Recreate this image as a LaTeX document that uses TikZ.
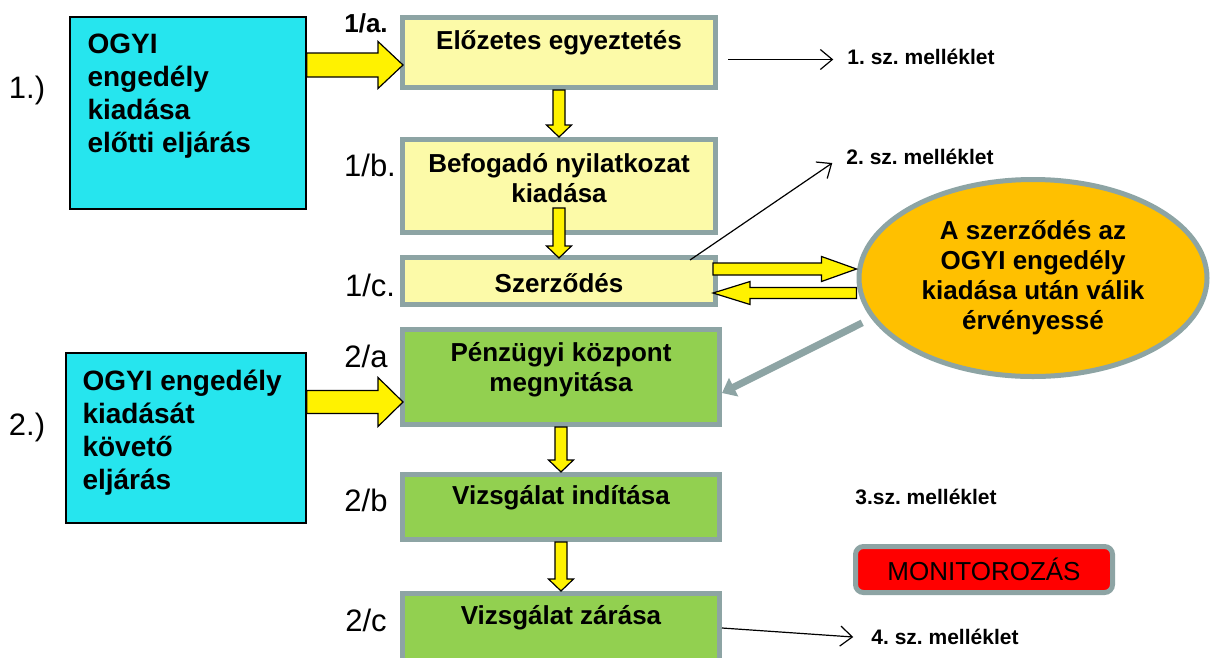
\documentclass[tikz,border=0pt]{standalone}
\usepackage{fontspec}
\setmainfont{Liberation Sans}
\usepackage{xcolor}
\usetikzlibrary{shapes.geometric, arrows.meta, positioning, calc}
\frenchspacing

\definecolor{ogyicyan}{RGB}{38,229,238}
\definecolor{paleyellow}{RGB}{252,250,168}
\definecolor{boxgrey}{RGB}{141,164,164}
\definecolor{stepgreen}{RGB}{146,208,80}
\definecolor{ellorange}{RGB}{255,192,0}

\tikzset{
  phasebox/.style={draw=black, line width=1.5pt, fill=ogyicyan, inner sep=0pt},
  ybox/.style={draw=boxgrey, line width=5pt, fill=paleyellow, inner sep=0pt, minimum width=313pt},
  gbox/.style={ybox, fill=stepgreen, minimum width=317pt},
  boxtext/.style={font=\fontsize{26}{30}\selectfont\bfseries, align=center},
  phasetext/.style={font=\fontsize{28}{33}\selectfont\bfseries, align=left, anchor=west},
  steplabel/.style={font=\fontsize{31}{34}\selectfont},
  mellabel/.style={font=\fontsize{21}{24}\selectfont\bfseries, inner sep=2pt},
  thinarrow/.style={draw=black, line width=1.2pt, -{Straight Barb[length=12pt,width=20pt]}},
  fatarrow/.style={draw=black, line width=1.2pt, fill=yellow},
}

% start, tip, half shaft, half head, head length
\newcommand{\yellowarrow}[5]{%
  \coordinate (fa-h) at ($(#2)!#5!(#1)$);
  \draw[fatarrow] ($(#1)!#3!90:(#2)$) -- ($(fa-h)!#3!90:(#2)$) -- ($(fa-h)!#4!90:(#2)$)
    -- (#2) -- ($(fa-h)!#4!-90:(#2)$) -- ($(fa-h)!#3!-90:(#2)$) -- ($(#1)!#3!-90:(#2)$) -- cycle;
}

\begin{document}
\begin{tikzpicture}[x=1pt, y=-1pt]
    \fill[white] (0,0) rectangle (1213,657);
    \useasboundingbox (0,0) rectangle (1213,657);

    % phases
    \node[phasebox, minimum width=236pt, minimum height=192pt] (ogyi1) at (188,113) {};
    \node[phasetext] (ogyi1-t) at (84,96) {OGYI\\engedély\\kiadása\\előtti eljárás};
    \node[phasebox, minimum width=240pt, minimum height=170pt] (ogyi2) at (186,438) {};
    \node[phasetext] (ogyi2-t) at (79,433) {OGYI engedély\\kiadását\\követő\\eljárás};
    \node[steplabel] (ph1) at (27,90) {1.)};
    \node[steplabel] (ph2) at (27,427) {2.)};

    % steps
    \node[ybox, minimum height=70pt] (elozetes) at (559,52.5) {};
    \node[boxtext] (elozetes-t) at (559,43) {Előzetes egyeztetés};
    \node[ybox, minimum height=93pt] (befogado) at (559,186) {};
    \node[boxtext] (befogado-t) at (559,178) {Befogadó nyilatkozat\\kiadása};
    \node[ybox, minimum height=47pt] (szerzodes) at (559,281) {};
    \node[boxtext] (szerzodes-t) at (559,283) {Szerződés};
    \node[gbox, minimum height=95pt] (penzugy) at (561,377) {};
    \node[boxtext] (penzugy-t) at (561,370) {Pénzügyi központ\\megnyitása};
    \node[gbox, minimum height=65pt] (vizsgind) at (561,507) {};
    \node[boxtext] (vizsgind-t) at (561,498) {Vizsgálat indítása};
    \node[gbox, minimum height=69pt] (vizsgzar) at (561,628) {};
    \node[boxtext] (vizsgzar-t) at (561,618) {Vizsgálat zárása};

    \node[font=\fontsize{26}{30}\selectfont\bfseries] (lab1a) at (366,23) {1/a.};
    \node[steplabel] (lab1b) at (370,165) {1/b.};
    \node[steplabel] (lab1c) at (370,285) {1/c.};
    \node[steplabel] (lab2a) at (366,356) {2/a};
    \node[steplabel] (lab2b) at (366,500) {2/b};
    \node[steplabel] (lab2c) at (366,620) {2/c};

    % note and monitoring
    \node[ellipse, draw=boxgrey, line width=5pt, fill=ellorange, minimum width=348pt, minimum height=197pt,
      inner sep=0pt, boxtext] (ervenyes) at (1033,278) {A szerződés az\\OGYI engedély\\kiadása után válik\\érvényessé};
    \node[draw=boxgrey, line width=5pt, fill=red, rounded corners=8pt, minimum width=257pt, minimum height=46pt,
      inner sep=0pt, font=\fontsize{26}{30}\selectfont] (monitor) at (984,569.5) {MONITOROZÁS};

    \node[mellabel] (mell1) at (921,57) {1. sz. melléklet};
    \node[mellabel] (mell2) at (920,157) {2. sz. melléklet};
    \node[mellabel] (mell3) at (926,497) {3.sz. melléklet};
    \node[mellabel] (mell4) at (945,637) {4. sz. melléklet};

    % thin arrows
    \coordinate (m1s) at ([xshift=10pt,yshift=-7pt]elozetes.east);
    \draw[thinarrow, shorten >=12pt] (m1s) -- (m1s -| mell1.west);
    \draw[thinarrow] ([xshift=-28pt,yshift=-5pt]szerzodes.north east) -- ([xshift=-12pt,yshift=-6pt]mell2.west);
    \draw[thinarrow] (vizsgzar.east) -- ([xshift=-16pt]mell4.west);

    % yellow arrows
    \coordinate (a1e) at ([xshift=3pt,yshift=-12.5pt]elozetes.west);
    \coordinate (a1s) at (ogyi1.east |- a1e);
    \yellowarrow{a1s}{a1e}{12pt}{23.5pt}{25pt}
    \coordinate (a2e) at ([xshift=3pt,yshift=-25pt]penzugy.west);
    \coordinate (a2s) at (ogyi2.east |- a2e);
    \yellowarrow{a2s}{a2e}{11.5pt}{24.5pt}{25pt}

    \yellowarrow{elozetes.south}{befogado.north}{6pt}{12.5pt}{12pt}
    \coordinate (d2s) at ([yshift=27pt]befogado.south);
    \coordinate (d2e) at ([yshift=-3pt]szerzodes.north);
    \yellowarrow{d2s}{d2e}{6pt}{12.5pt}{12pt}
    \yellowarrow{penzugy.south}{vizsgind.north}{6pt}{12.5pt}{12pt}
    \yellowarrow{vizsgind.south}{vizsgzar.north}{6pt}{12.5pt}{12pt}

    \coordinate (a3s) at ([xshift=-5pt,yshift=12pt]szerzodes.east);
    \coordinate (a3e) at (a3s -| ervenyes.west);
    \yellowarrow{a3s}{a3e}{6pt}{12.5pt}{35pt}
    \coordinate (a4e) at ([xshift=-5pt,yshift=-12pt]szerzodes.east);
    \coordinate (a4s) at (a4e -| ervenyes.west);
    \yellowarrow{a4s}{a4e}{5.5pt}{11.5pt}{37pt}

    % grey arrow
    \draw[line width=7pt, boxgrey, -{Triangle[length=13pt,width=20pt]}, shorten <=10pt]
      (ervenyes.194) -- ([yshift=-16pt]penzugy.east);
\end{tikzpicture}
\end{document}
